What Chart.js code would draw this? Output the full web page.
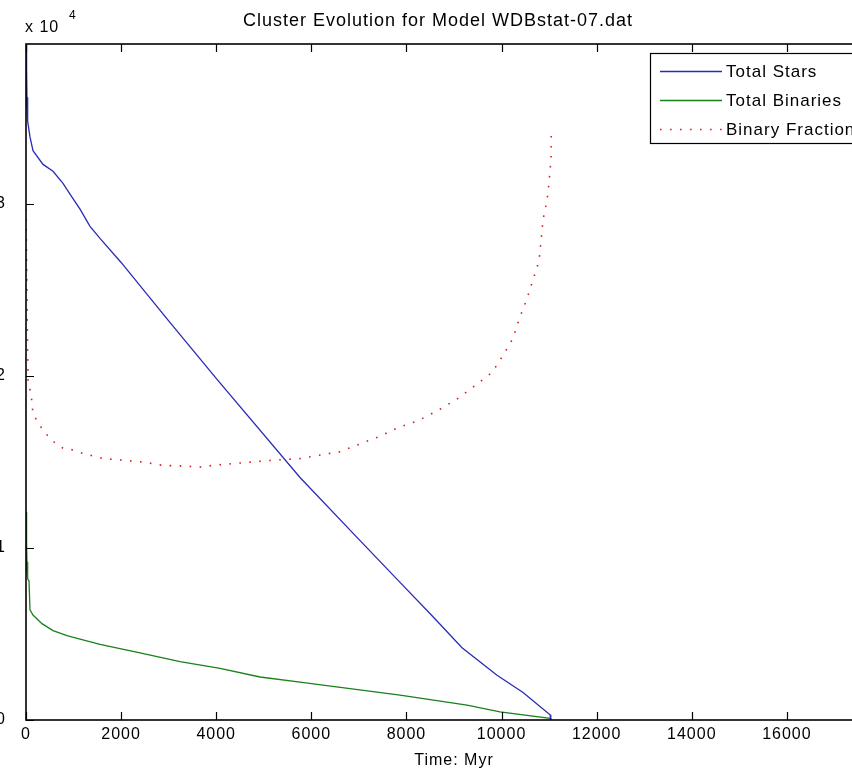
<!DOCTYPE html>
<html>
<head>
<meta charset="utf-8">
<script src="https://cdn.jsdelivr.net/npm/chart.js@4.4.0/dist/chart.umd.min.js"></script>
<style>
  html, body { margin: 0; padding: 0; background: #fff; overflow: hidden; width: 852px; height: 779px; }
  #evolutionChart { position: absolute; left: -20px; top: 0; }
</style>
</head>
<body>
<canvas id="evolutionChart" width="960" height="779"></canvas>
<script>
// Values, y in units of 10^4
const starsTime = [0, 5, 10, 15, 20, 25, 30, 35, 40, 84, 147, 358, 568, 778, 967, 1136, 1346, 1556, 2000, 3000, 4017, 5762, 7000, 7865, 8559, 9169, 9905, 10452, 11020, 11035];
const totalStars = [3.95, 3.62, 3.90, 3.56, 3.78, 3.52, 3.62, 3.50, 3.48, 3.39, 3.31, 3.23, 3.19, 3.12, 3.04, 2.97, 2.87, 2.80, 2.66, 2.32, 1.98, 1.41, 1.05, 0.80, 0.60, 0.42, 0.26, 0.16, 0.03, 0.00];

const binariesTime = [0, 5, 10, 15, 20, 25, 30, 35, 40, 63, 84, 147, 336, 568, 862, 1136, 1556, 2397, 3239, 4080, 4921, 5762, 7865, 9274, 9968, 11020, 11035];
const totalBinaries = [1.21, 0.86, 1.15, 0.88, 1.02, 0.85, 0.92, 0.83, 0.82, 0.81, 0.64, 0.61, 0.56, 0.52, 0.49, 0.47, 0.44, 0.39, 0.34, 0.30, 0.25, 0.22, 0.145, 0.087, 0.047, 0.01, 0.00];

const fractionTime = [0, 21, 42, 105, 126, 147, 273, 400, 568, 778, 988, 1199, 1619, 2040, 2460, 2881, 3302, 3701, 3912, 4332, 4753, 5174, 5762, 6604, 7445, 7823, 8244, 8665, 9085, 9422, 9800, 10032, 10242, 10368, 10536, 10662, 10789, 10831, 10873, 10957, 10999, 11041, 11045];
const binaryFraction = [2.97, 2.44, 1.96, 1.90, 1.84, 1.78, 1.72, 1.67, 1.62, 1.58, 1.57, 1.55, 1.52, 1.51, 1.50, 1.48, 1.477, 1.47, 1.48, 1.49, 1.50, 1.51, 1.52, 1.56, 1.65, 1.70, 1.74, 1.80, 1.87, 1.94, 2.02, 2.12, 2.22, 2.33, 2.45, 2.56, 2.67, 2.79, 2.91, 3.02, 3.13, 3.26, 3.42];

const xTicks = [0, 2000, 4000, 6000, 8000, 10000, 12000, 14000, 16000, 18000];
const yTicks = [0, 1, 2, 3];

const FONT = '"Liberation Sans", Arial, sans-serif';

function toPoints(xs, ys) {
  return xs.map((x, i) => ({ x: x, y: ys[i] }));
}

// spaced-out lettering like the old MATLAB screen font
const spacing = {
  id: "spacing",
  beforeDraw(chart) { chart.ctx.letterSpacing = "1px"; }
};

// box, inward ticks, exponent label and legend
const matlabFrame = {
  id: "matlabFrame",
  afterDatasetsDraw(chart) {
    const { ctx, chartArea: a, scales } = chart;
    ctx.save();
    ctx.strokeStyle = "#000";
    ctx.lineWidth = 1.6;
    ctx.strokeRect(a.left, a.top, a.right - a.left, a.bottom - a.top);

    ctx.beginPath();
    xTicks.forEach(v => {
      const px = Math.round(scales.x.getPixelForValue(v)) + 0.5;
      ctx.moveTo(px, a.bottom); ctx.lineTo(px, a.bottom - 8);
      ctx.moveTo(px, a.top); ctx.lineTo(px, a.top + 8);
    });
    yTicks.forEach(v => {
      const py = Math.round(scales.y.getPixelForValue(v)) + 0.5;
      ctx.moveTo(a.left, py); ctx.lineTo(a.left + 8, py);
      ctx.moveTo(a.right, py); ctx.lineTo(a.right - 8, py);
    });
    ctx.lineWidth = 1.2;
    ctx.stroke();

    // exponent
    ctx.fillStyle = "#000";
    ctx.textBaseline = "middle";
    ctx.font = "16px " + FONT;
    ctx.fillText("x 10", a.left - 1, 28);
    ctx.font = "12px " + FONT;
    ctx.fillText("4", a.left + 43, 16);

    // legend
    const lx = 670, ly = 53, lw = 230, lh = 90;
    ctx.fillStyle = "#fff";
    ctx.fillRect(lx, ly, lw, lh);
    ctx.lineWidth = 1.2;
    ctx.strokeRect(lx + 0.5, ly + 0.5, lw, lh);
    chart.data.datasets.forEach((ds, i) => {
      const y = ly + 18 + i * 29;
      ctx.beginPath();
      ctx.strokeStyle = ds.borderColor;
      ctx.lineWidth = ds.borderWidth;
      ctx.setLineDash(ds.borderDash || []);
      ctx.moveTo(lx + 10, y + 0.5);
      ctx.lineTo(lx + 72, y + 0.5);
      ctx.stroke();
      ctx.setLineDash([]);
      ctx.fillStyle = "#000";
      ctx.font = "17px " + FONT;
      ctx.fillText(ds.label, lx + 76, y + 1);
    });
    ctx.restore();
  }
};

const ctx = document.getElementById("evolutionChart").getContext("2d");
new Chart(ctx, {
  type: "scatter",
  data: {
    datasets: [
      {
        label: "Total Stars",
        data: toPoints(starsTime, totalStars),
        showLine: true,
        borderColor: "#2a2ab8",
        borderWidth: 1.3,
        pointRadius: 0,
        tension: 0
      },
      {
        label: "Total Binaries",
        data: toPoints(binariesTime, totalBinaries),
        showLine: true,
        borderColor: "#1a801a",
        borderWidth: 1.3,
        pointRadius: 0,
        tension: 0
      },
      {
        label: "Binary Fraction",
        data: toPoints(fractionTime, binaryFraction),
        showLine: true,
        borderColor: "#d42020",
        borderWidth: 1.6,
        borderDash: [1.6, 8.4],
        pointRadius: 0,
        tension: 0
      }
    ]
  },
  options: {
    responsive: false,
    animation: false,
    layout: { padding: { left: 14, right: 58, top: 0, bottom: 0 } },
    plugins: {
      legend: { display: false },
      tooltip: { enabled: false },
      title: {
        display: true,
        text: "Cluster Evolution for Model WDBstat-07.dat",
        color: "#000",
        font: { family: FONT, size: 18, weight: "normal" },
        padding: { top: 10, bottom: 12.4 }
      }
    },
    scales: {
      x: {
        type: "linear",
        min: 0,
        max: 18000,
        grid: { display: false, drawTicks: false },
        border: { display: false },
        ticks: {
          stepSize: 2000,
          color: "#000",
          padding: 5,
          maxRotation: 0,
          font: { family: FONT, size: 16 },
          callback: v => String(v)
        },
        title: {
          display: true,
          text: "Time: Myr",
          color: "#000",
          font: { family: FONT, size: 16 },
          padding: { top: 0, bottom: 9 }
        },
        afterFit(scale) { scale.height = 59; }
      },
      y: {
        type: "linear",
        min: 0,
        max: 3.93,
        grid: { display: false, drawTicks: false },
        border: { display: false },
        ticks: {
          stepSize: 1,
          includeBounds: false,
          color: "#000",
          padding: 20,
          font: { family: FONT, size: 16 },
          callback: v => String(v)
        },
        afterFit(scale) { scale.width = 32; }
      }
    }
  },
  plugins: [spacing, matlabFrame]
});
</script>
</body>
</html>
